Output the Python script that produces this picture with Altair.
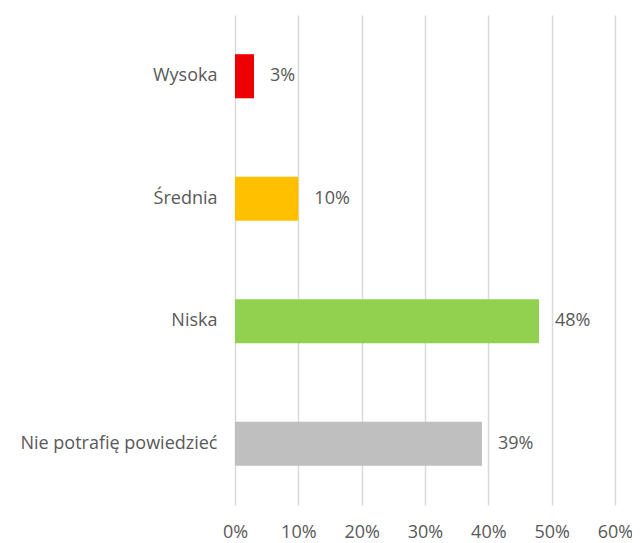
import altair as alt
import pandas as pd

categories = ["Wysoka", "Średnia", "Niska", "Nie potrafię powiedzieć"]
values = [0.03, 0.10, 0.48, 0.39]
labels = ["3%", "10%", "48%", "39%"]
colors = ["#EE0000", "#FFC000", "#92D050", "#BFBFBF"]

df = pd.DataFrame({"cat": categories, "val": values, "label": labels, "color": colors})

FONT = "Open Sans"
TXT = "#595959"
FS = 18

y_enc = alt.Y("cat:N", sort=categories, title=None,
              scale=alt.Scale(paddingInner=0.64, paddingOuter=0.32),
              axis=alt.Axis(domain=False, ticks=False, labelPadding=18,
                            labelFontSize=FS, labelColor=TXT, labelFont=FONT,
                            labelLimit=400))
x_enc = alt.X("val:Q", title=None,
              scale=alt.Scale(domain=[0, 0.6], nice=False),
              axis=alt.Axis(format=".0%", values=[0, 0.1, 0.2, 0.3, 0.4, 0.5, 0.6],
                            domain=False, ticks=False, labelPadding=18,
                            labelFontSize=FS, labelColor=TXT, labelFont=FONT,
                            grid=True, gridColor="#D9D9D9", gridWidth=1.5,
                            labelFlush=False))

bars = alt.Chart(df).mark_bar().encode(
    x=x_enc, y=y_enc,
    color=alt.Color("color:N", scale=None),
)
text = alt.Chart(df).mark_text(align="left", dx=16, fontSize=FS, color=TXT, font=FONT).encode(
    x="val:Q", y=alt.Y("cat:N", sort=categories), text="label:N"
)

chart = (bars + text).properties(
    width=380, height=490,
    autosize=alt.AutoSizeParams(type="none"),
    padding={"left": 227, "top": 7, "right": 17, "bottom": 37},
).configure_view(stroke=None)

chart.save("out.html", embed_options={"renderer": "svg", "actions": False})
